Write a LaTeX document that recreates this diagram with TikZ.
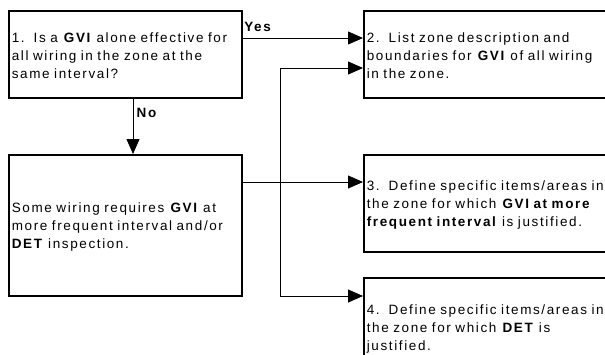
\documentclass[tikz,border=0pt]{standalone}
\usepackage{fontspec}
\setmainfont{Liberation Sans}[LetterSpace=12, WordSpace=1.4]
\usetikzlibrary{arrows.meta}

\begin{document}
\begin{tikzpicture}[x=1pt, y=-1pt, font=\fontsize{13.5}{18}\selectfont,
        box/.style={rectangle, draw, line width=1.6pt, anchor=north west, align=left, inner xsep=3pt, inner ysep=0pt, execute at begin node={\rule{0pt}{13pt}}},
        flow/.style={line width=0.8pt, -{Triangle[length=15pt, width=13pt]}}]
        \useasboundingbox (0,0) rectangle (605,354);
        \node [box, text width=227pt, minimum height=87pt] (question) at (8,10) {
            1.\ \ Is a \textbf{GVI} alone effective for\\all wiring in the zone at the\\same interval?
        };
        \node [box, text width=227pt, minimum height=141pt] (some) at (8,154) {
            Some wiring requires \textbf{GVI} at\\more frequent interval and/or\\\textbf{DET} inspection.
        };
        \node [box, text width=254pt, minimum height=87pt] (list) at (363,10) {
            2.\ \ List zone description and\\boundaries for \textbf{GVI} of all wiring\\in the zone.
        };
        \node [box, text width=254pt, minimum height=97pt] (gvi) at (363,154) {
            3.\ \ Define specific items/areas in\\the zone for which \textbf{GVI at more}\\\textbf{frequent interval} is justified.
        };
        \node [box, text width=254pt, minimum height=100pt] (det) at (363,277) {
            4.\ \ Define specific items/areas in\\the zone for which \textbf{DET} is\\justified.
        };
        \coordinate (bend top) at (280,68);
        \coordinate (bend low) at (280,296);
        \draw [flow] (question.east |- 0,38) -- node [pos=0, anchor=south west, yshift=3pt, xshift=-2pt, font=\bfseries\fontsize{13.5}{18}\selectfont] {Yes} (list.west |- 0,38);
        \draw [flow] (question.south -| 133,0) -- node [right, pos=0.25, font=\bfseries\fontsize{13.5}{18}\selectfont] {No} (some.north -| 133,0);
        \draw [flow] (some.east |- 0,182) -- (gvi.west |- 0,182);
        \draw [flow] (bend low) -- (bend top) -- (list.west |- bend top);
        \draw [flow] (bend low) -- (det.west |- bend low);
    \end{tikzpicture}
\end{document}
